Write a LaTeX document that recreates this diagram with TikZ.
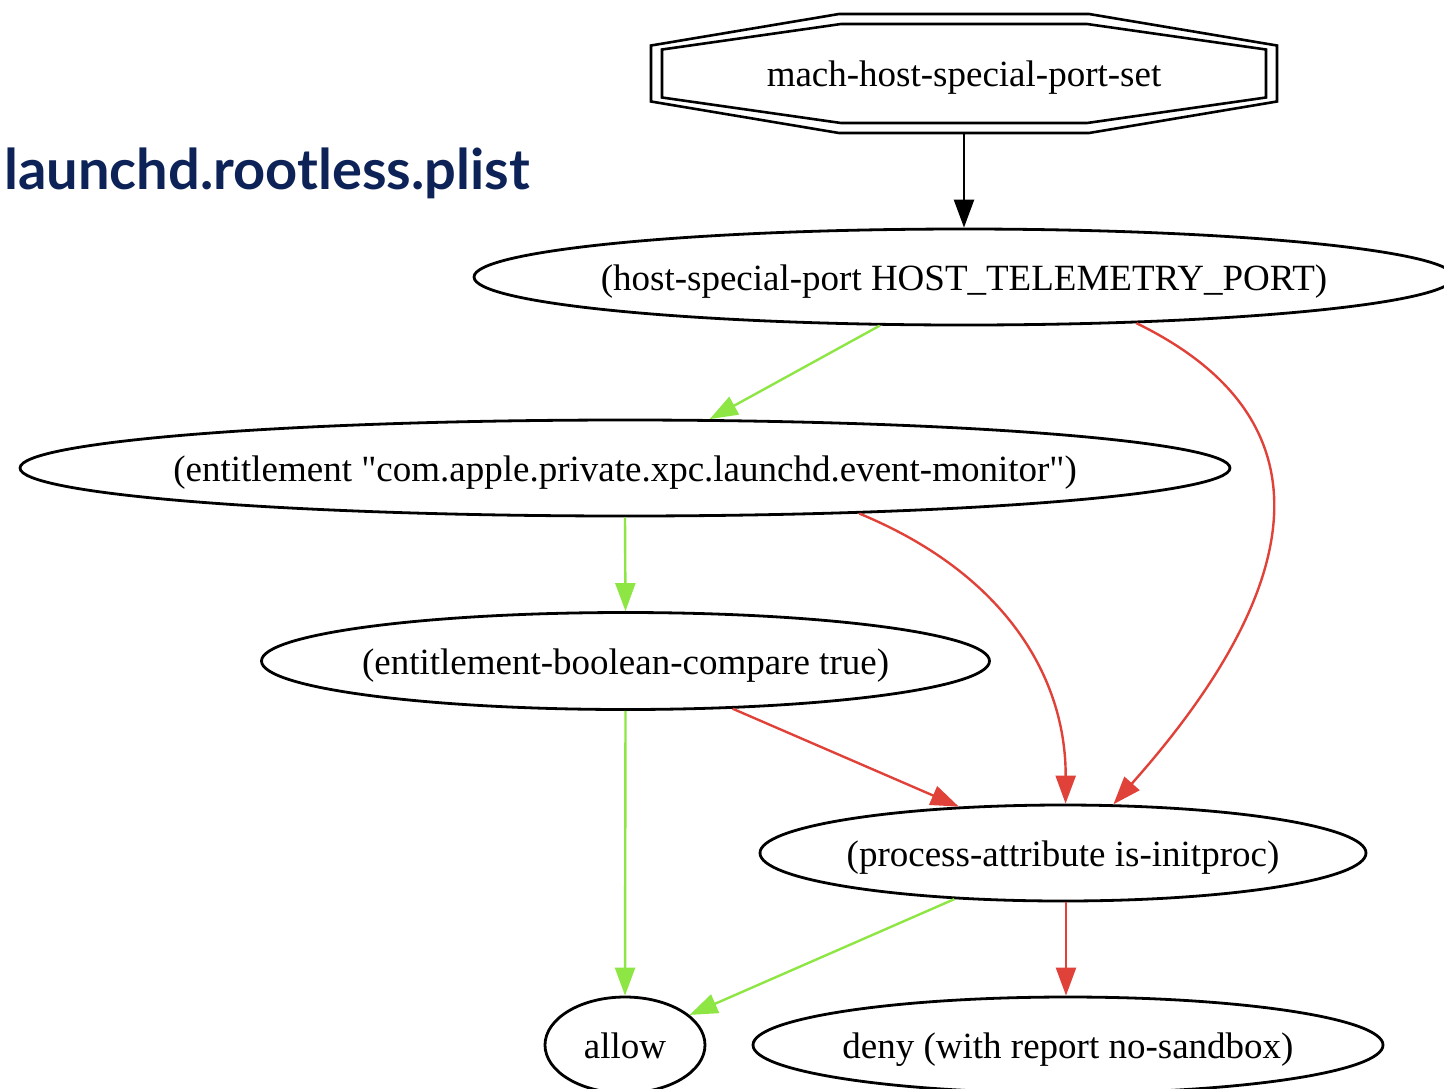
\documentclass[tikz,border=0pt]{standalone}
\usepackage{fontspec}
\setmainfont{Liberation Serif}[Ligatures=TeXOff]
\newfontfamily\titlefont{Lato}
\usetikzlibrary{shapes.geometric,arrows.meta,calc}
\definecolor{gvgreen}{HTML}{8EE645}
\definecolor{gvred}{HTML}{E0423A}
\definecolor{titleblue}{HTML}{0D2358}
\newcommand{\gvtext}[1]{\makebox[0pt]{#1}}
\tikzset{
  gvfont/.style={font=\fontsize{37}{44}\selectfont,text height=30pt,text depth=4pt},
  gvnode/.style={ellipse,draw=black,line width=2.8pt,inner sep=0pt,gvfont},
  gvedge/.style={line width=2.4pt,-{Triangle[length=28pt,width=20pt]}},
  yes/.style={gvedge,draw=gvgreen},
  no/.style={gvedge,draw=gvred},
  plain/.style={gvedge,draw=black}
}
\begin{document}
\begin{tikzpicture}[x=1pt,y=-1pt]
\useasboundingbox (0,0) rectangle (1444,1088);
\node[anchor=base west,text=titleblue,font=\titlefont\bfseries\fontsize{56}{64}\selectfont,inner sep=0pt] (title) at (4,189) {launchd.rootless.plist};

\node[rectangle,minimum width=626pt,minimum height=119pt,inner sep=0pt,gvfont] (mach) at (964,73.5) {\gvtext{mach-host-special-port-set}};
\draw[line width=2.6pt] ($(mach.center)+(-125,-59.5)$) -- ++(250,0) -- ++(188,31.5) -- ++(0,56) -- ++(-188,31.5) -- ++(-250,0) -- ++(-188,-31.5) -- ++(0,-56) -- cycle;
\draw[line width=2.6pt] ($(mach.center)+(-123,-49.5)$) -- ++(246,0) -- ++(179,25.5) -- ++(0,48) -- ++(-179,25.5) -- ++(-246,0) -- ++(-179,-25.5) -- ++(0,-48) -- cycle;

\node[gvnode,minimum width=980pt,minimum height=96pt] (host) at (964,277) {\gvtext{(host-special-port HOST\_TELEMETRY\_PORT)}};
\node[gvnode,minimum width=1210pt,minimum height=96pt] (ent) at (625,468) {\gvtext{(entitlement "com.apple.private.xpc.launchd.event-monitor")}};
\node[gvnode,minimum width=728pt,minimum height=97pt] (bool) at (625.5,661) {\gvtext{(entitlement-boolean-compare true)}};
\node[gvnode,minimum width=606pt,minimum height=96pt] (proc) at (1063,853) {\gvtext{(process-attribute is-initproc)}};
\node[gvnode,minimum width=160pt,minimum height=96pt] (allow) at (625,1045) {\gvtext{allow}};
\node[gvnode,minimum width=630pt,minimum height=96pt] (deny) at (1068,1045) {\gvtext{deny (with report no-sandbox)}};

\draw[plain] (mach.south) -- (host.north);
\draw[yes] (host.-150.5) -- (ent.30);
\draw[no] (host.-15.5) .. controls (1345,425) and (1295,600) .. (proc.44.4);
\draw[yes] (ent.south) -- (bool.north);
\draw[no] (ent.-11.5) .. controls (1008,575) and (1066,680) .. (proc.87);
\draw[no] (bool.-24.3) -- (proc.156);
\draw[yes] (bool.south) -- (allow.north);
\draw[yes] (proc.-157) -- (allow.25.5);
\draw[no] ($(proc.south)+(3,0)$) -- ($(deny.north)+(-2,0)$);
\end{tikzpicture}
\end{document}
